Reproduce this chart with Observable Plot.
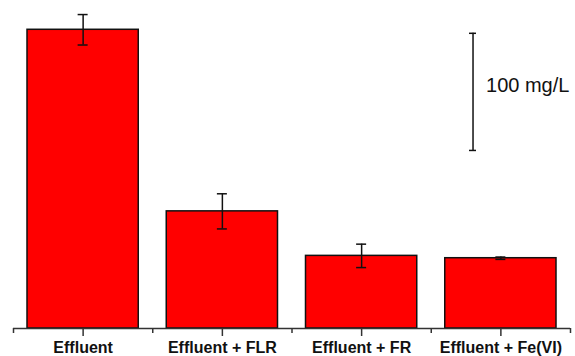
<!DOCTYPE html>
<html>
<head>
<meta charset="utf-8">
<script src="https://cdn.jsdelivr.net/npm/d3@7"></script>
<script src="https://cdn.jsdelivr.net/npm/@observablehq/plot@0.6"></script>
<style>
  html, body { margin: 0; padding: 0; background: #fff; }
  #chart svg { display: block; font-family: Arial, "Liberation Sans", sans-serif; }
</style>
</head>
<body>
<div id="chart"></div>
<script>
// Data (mg/L)
const categories = ["Effluent", "Effluent + FLR", "Effluent + FR", "Effluent + Fe(VI)"];
const values = [255, 100, 62, 60];
const errors = [13, 15, 10, 1];
// Scale-bar annotation (100 mg/L)
const scaleBarLength = 100;
const scaleBarStart = 152;
const scaleBarSlot = 3.3;   // position in category-slot units
const scaleBarLabel = "100 mg/L";

const rows = categories.map((c, i) => ({i, cat: c, value: values[i], err: errors[i]}));
const caps = rows.flatMap(d => [
  {c: d.i + 0.5, y: d.value + d.err},
  {c: d.i + 0.5, y: d.value - d.err}
]);
const sb = [{x: scaleBarSlot, y1: scaleBarStart, y2: scaleBarStart + scaleBarLength}];
const sbCaps = [{x: scaleBarSlot, y: scaleBarStart}, {x: scaleBarSlot, y: scaleBarStart + scaleBarLength}];

const chart = Plot.plot({
  width: 575,
  height: 356,
  marginLeft: 13,
  marginRight: 5,
  marginTop: 0,
  marginBottom: 28,
  style: {fontFamily: 'Arial, "Liberation Sans", sans-serif', background: "#fff"},
  x: {domain: [0, categories.length], axis: null},
  y: {domain: [0, 280], axis: null},
  marks: [
    Plot.rect(rows, {
      x1: d => d.i, x2: d => d.i + 1, y1: () => 0, y2: "value",
      insetLeft: 14, insetRight: 14,
      fill: "#ff0000", stroke: "#111", strokeWidth: 1.5
    }),
    Plot.ruleX(rows, {
      x: d => d.i + 0.5, y1: d => d.value - d.err, y2: d => d.value + d.err,
      stroke: "#111", strokeWidth: 1.5
    }),
    Plot.ruleY(caps, {
      y: "y", x1: "c", x2: "c", insetLeft: -5, insetRight: -5,
      stroke: "#111", strokeWidth: 1.5
    }),
    // scale bar
    Plot.ruleX(sb, {x: "x", y1: "y1", y2: "y2", stroke: "#111", strokeWidth: 1.5}),
    Plot.ruleY(sbCaps, {y: "y", x1: "x", x2: "x", insetLeft: -3.5, insetRight: -3.5, stroke: "#111", strokeWidth: 1.5}),
    Plot.text(sb, {
      x: "x", y: d => (d.y1 + d.y2) / 2, text: () => scaleBarLabel,
      dx: 13, dy: -6, textAnchor: "start", fontSize: 20, fill: "#111"
    }),
    // x axis
    Plot.ruleY([0], {stroke: "#333", strokeWidth: 1.5}),
    Plot.axisX({
      ticks: categories.map((c, i) => i + 0.5),
      tickFormat: t => categories[Math.floor(t)],
      tickSize: 8, tickPadding: 5, strokeWidth: 1.5, stroke: "#333",
      fontSize: 16, fontWeight: "bold", fill: "#111", label: null
    }),
    Plot.axisX({
      ticks: categories.map((c, i) => i).concat([categories.length]),
      tickFormat: () => "",
      tickSize: 5, strokeWidth: 1.5, stroke: "#333", label: null
    })
  ]
});
document.getElementById("chart").appendChild(chart);
</script>
</body>
</html>
